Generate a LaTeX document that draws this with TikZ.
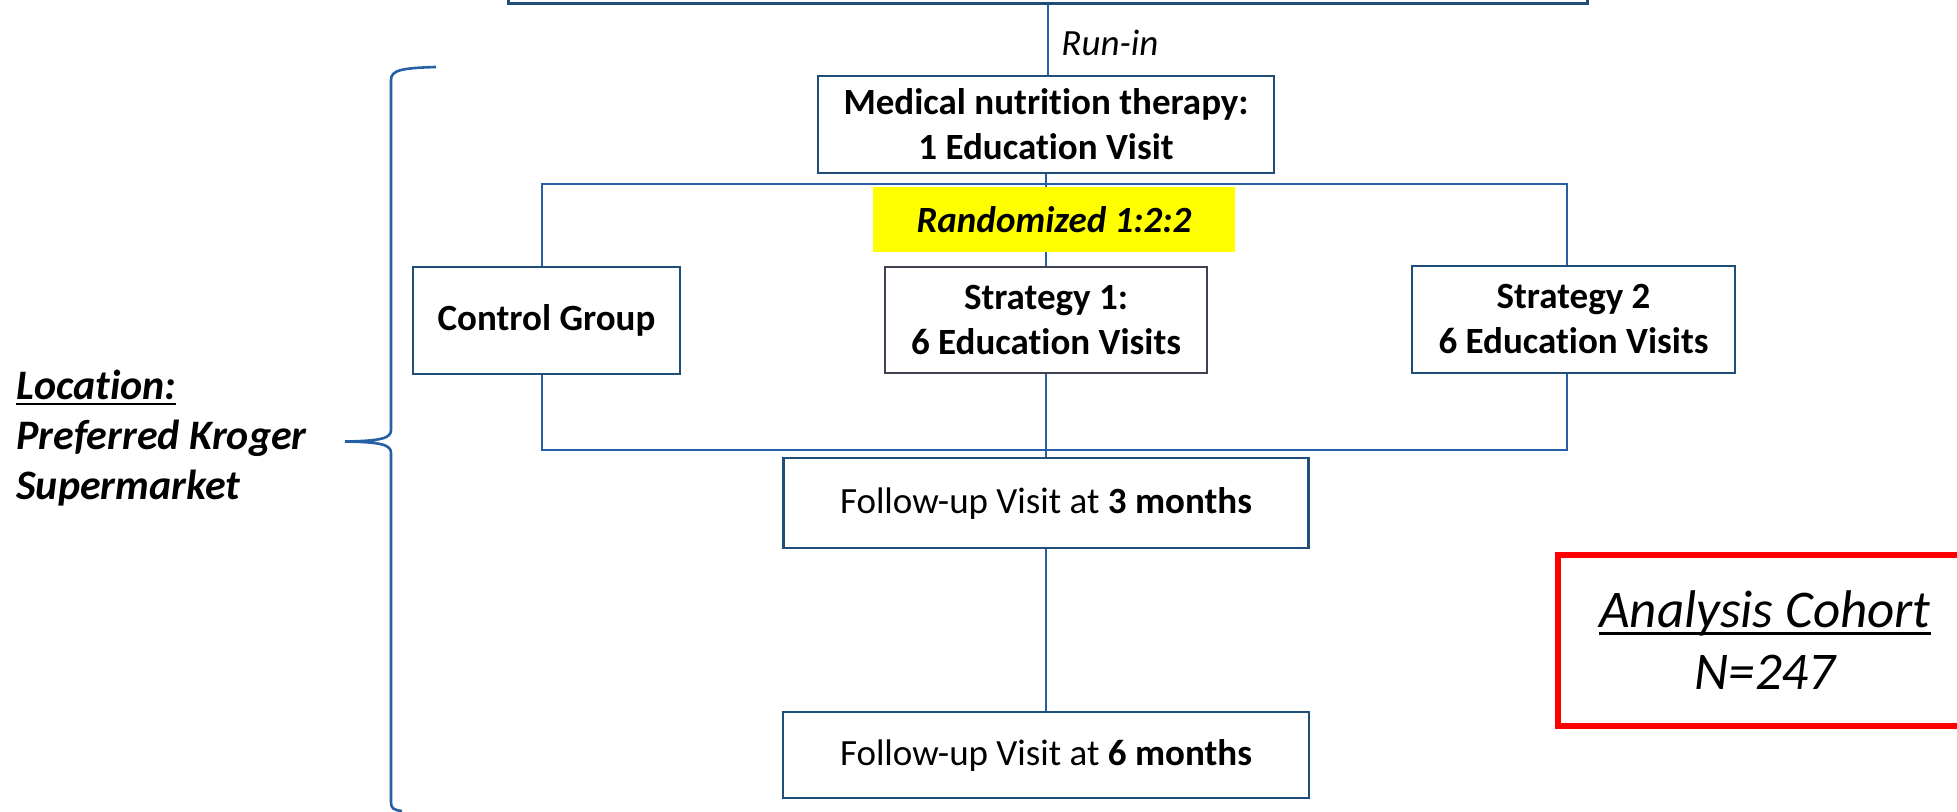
\documentclass[tikz,border=0pt]{standalone}
\usepackage{fontspec}
\setmainfont{Carlito}[Ligatures=NoCommon]
\usepackage{tikz}
\definecolor{boxBlue}{RGB}{31,78,121}
\definecolor{lineBlue}{RGB}{36,96,163}
\definecolor{boxGrey}{RGB}{64,64,82}
\definecolor{hiYellow}{RGB}{255,255,0}
\definecolor{cohortRed}{RGB}{255,0,0}
% underline close to the baseline
\newcommand{\ulbar}[1]{\setbox0=\hbox{#1}\rlap{\rule[-0.13em]{\wd0}{0.055em}}\box0}

\begin{document}
\begin{tikzpicture}[x=0.5pt,y=-0.5pt,
    box/.style={draw=boxBlue, line width=1.2pt, fill=white, align=center,
      inner sep=0pt, font=\fontsize{18.5}{22.5}\selectfont},
    grp/.style={box, font=\fontsize{18.5}{22.5}\selectfont\bfseries},
    link/.style={draw=lineBlue, line width=1pt}]
  \clip (0,0) rectangle (1957,812);

  % enrolment box, cut off at the top
  \node[box, line width=1.5pt, minimum width=539.5pt, minimum height=44pt] (enrol) at (1047.5,-40) {};
  \node[anchor=west, inner sep=0pt, font=\fontsize{18.5}{22.5}\selectfont\itshape] (runin) at (1061,43) {Run-in};

  \node[grp, minimum width=228pt, minimum height=48.5pt] (mnt) at (1046,124.5) {Medical nutrition therapy:\\1 Education Visit};

  % the three arms
  \node[grp, minimum width=133.5pt, minimum height=53.5pt] (ctrl) at (546.5,320.5) {Control Group};
  \node[grp, draw=boxGrey, minimum width=161pt, minimum height=53pt] (str1) at (1046,320) {Strategy 1:\\6 Education Visits};
  \node[grp, minimum width=161.5pt, minimum height=53.5pt] (str2) at (1573.5,319.5) {Strategy 2\\6 Education Visits};

  % follow-up
  \node[box, minimum width=262.5pt, minimum height=45pt] (fu3) at (1046,503) {Follow-up Visit at \textbf{3 months}};
  \node[box, minimum width=263pt, minimum height=43pt] (fu6) at (1046,755) {Follow-up Visit at \textbf{6 months}};

  % branch points
  \coordinate (brL) at (542,184);
  \coordinate (brR) at (1567,184);
  \coordinate (jnL) at (542,450);
  \coordinate (jnR) at (1567,450);

  \draw[link] (enrol.south) -- (enrol.south |- mnt.north);
  \draw[link] (mnt.south) -- (str1.north);
  \draw[link] (brL |- ctrl.north) -- (brL) -- (brR) -- (brR |- str2.north);
  \draw[link] (brL |- ctrl.south) -- (jnL) -- (jnR) -- (brR |- str2.south);
  \draw[link] (str1.south) -- (fu3.north);
  \draw[link] (fu3.south) -- (fu6.north);

  % yellow label sits over the line
  \node[fill=hiYellow, minimum width=181pt, minimum height=32.5pt, inner sep=0pt,
    font=\fontsize{18.5}{22.5}\selectfont\bfseries\itshape] (rand) at (1054,219.5) {Randomized 1:2:2};

  % brace and location
  \draw[lineBlue, line width=1.3pt] (436,67) .. controls (402,68) and (391,70) .. (391,80)
    -- (391,430) .. controls (391,438) and (382,441) .. (345,441.5)
    .. controls (382,442) and (391,445) .. (391,453)
    -- (391,802) .. controls (391,808) and (393,810) .. (402,811);
  \node[anchor=west, align=left, inner sep=0pt,
    font=\fontsize{21}{25}\selectfont\bfseries\itshape] (loc) at (16,438)
    {\ulbar{Location:}\\Preferred Kroger\\Supermarket};

  \node[draw=cohortRed, line width=3pt, minimum width=207pt, minimum height=85.5pt, align=center,
    font=\fontsize{26.5}{31}\selectfont\itshape] (cohort) at (1765,640.5)
    {\ulbar{Analysis Cohort}\\N=247};
\end{tikzpicture}
\end{document}
